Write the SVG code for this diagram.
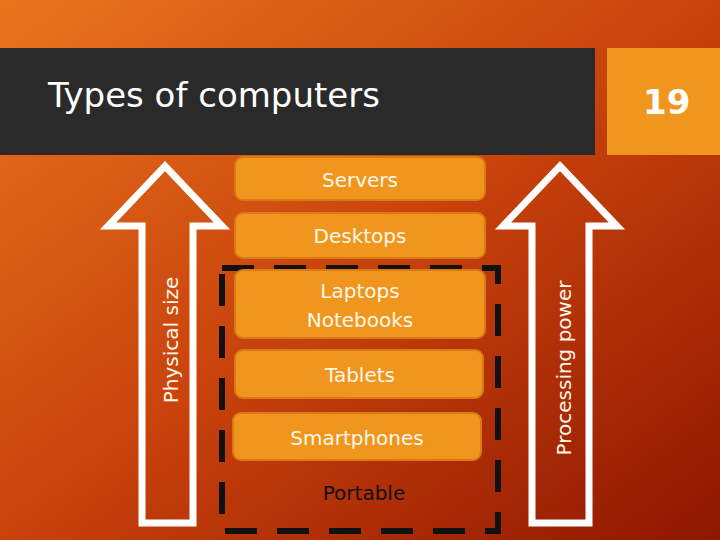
<svg xmlns="http://www.w3.org/2000/svg" width="720" height="540" viewBox="0 0 720 540">
<defs>
<linearGradient id="bg" x1="0" y1="0" x2="1" y2="1">
<stop offset="0" stop-color="#e8761e"/><stop offset="0.5" stop-color="#c9420c"/><stop offset="1" stop-color="#8e1600"/>
</linearGradient>
<style>
.box{fill:#f0961e;stroke:#d97a14;stroke-width:2}
.t{font-family:"DejaVu Sans",sans-serif;font-size:20px;fill:#fff8e8;text-anchor:middle}
.arr{fill:none;stroke:#fff;stroke-width:7;stroke-linejoin:miter}
</style>
</defs>
<rect width="720" height="540" fill="url(#bg)"/>
<rect x="0" y="48" width="595" height="107" fill="#2a2a2a"/>
<rect x="607" y="48" width="113" height="107" fill="#f0961e"/>
<text x="48" y="107" font-family="DejaVu Sans,sans-serif" font-size="34" fill="#fff">Types of computers</text>
<text x="643" y="114" font-family="DejaVu Sans,sans-serif" font-size="34" fill="#fff" font-weight="bold">19</text>
<g id="arrow-left"><path class="arr" d="M142,523 V226 H108 L165,166 L222,226 H193 V523 Z"/>
<text class="t" transform="translate(178,340) rotate(-90)" font-size="20">Physical size</text></g>
<g id="arrow-right"><path class="arr" d="M532,523 V226 H503 L560,166 L617,226 H589 V523 Z"/>
<text class="t" transform="translate(571,368) rotate(-90)" font-size="20">Processing power</text></g>
<g id="servers"><rect class="box" x="235" y="157" width="250" height="43" rx="8"/><text class="t" x="360" y="187">Servers</text></g>
<g id="desktops"><rect class="box" x="235" y="213" width="250" height="45" rx="8"/><text class="t" x="360" y="243">Desktops</text></g>
<g id="portable"><rect x="222" y="268" width="276" height="263" fill="none" stroke="#111" stroke-width="6" stroke-dasharray="32,20"/>
<text x="364" y="500" font-family="DejaVu Sans,sans-serif" font-size="20" fill="#111" text-anchor="middle">Portable</text></g>
<g id="laptops"><rect class="box" x="235" y="270" width="250" height="68" rx="8"/><text class="t" x="360" y="298">Laptops</text><text class="t" x="360" y="327">Notebooks</text></g>
<g id="tablets"><rect class="box" x="235" y="350" width="248" height="48" rx="8"/><text class="t" x="360" y="382">Tablets</text></g>
<g id="smartphones"><rect class="box" x="233" y="413" width="248" height="47" rx="8"/><text class="t" x="357" y="445">Smartphones</text></g>
</svg>
